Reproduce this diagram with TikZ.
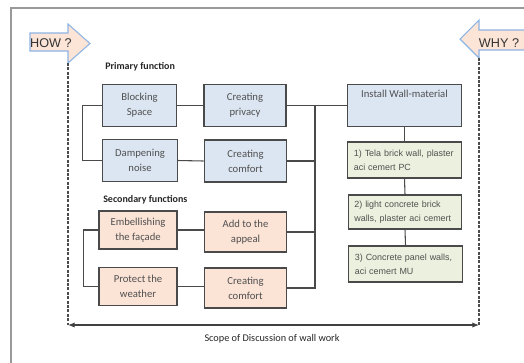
\documentclass[tikz,border=0pt]{standalone}
\usepackage{fontspec}
\setmainfont{Carlito}
\newfontfamily\arialfont{Liberation Sans}
\usepackage{xcolor}
\usetikzlibrary{arrows.meta}

\definecolor{primfill}{HTML}{DCE6F2}
\definecolor{secfill}{HTML}{FBE3D6}
\definecolor{matfill}{HTML}{EBF1DE}
\definecolor{howfill}{HTML}{FCE4D6}
\definecolor{howline}{HTML}{8EB4E3}
\definecolor{boxline}{HTML}{4A4A4A}
\definecolor{boxtext}{HTML}{505050}

\begin{document}
\begin{tikzpicture}[x=0.75pt,y=0.75pt,yscale=-1,xscale=1,
  funcbox/.style={draw=boxline,line width=0.9pt,inner sep=2pt,align=center,text=boxtext,
    font=\fontsize{8}{11.25}\selectfont},
  primbox/.style={funcbox,fill=primfill},
  secbox/.style={funcbox,fill=secfill},
  matbox/.style={funcbox,fill=matfill,align=left,text width=76pt,
    font=\arialfont\fontsize{6.7}{10.5}\selectfont},
  link/.style={draw=boxline,line width=0.8pt},
  heading/.style={anchor=west,inner sep=0.75pt,font=\bfseries\fontsize{7.5}{9}\selectfont,text=black!85},
  asker/.style={fill=howfill,draw=howline,line width=0.8pt},
  border/.style={dash pattern=on 2.2pt off 1.1pt,color=black!70,line width=1pt}]
\useasboundingbox (0,0) rectangle (524,362);

%frame
\draw [color=black!40,line width=1.3pt] (11,370) -- (11,8) -- (530,8) ;

%HOW / WHY arrows
\draw [asker] (30,33) -- (68,33) -- (68,24) -- (90,43.5) -- (68,63) -- (68,51) -- (30,51) -- cycle ;
\node [inner sep=0.75pt,font=\arialfont\fontsize{9.5}{11}\selectfont,text=black!80] (how) at (51,43) {HOW ?};
\draw [asker] (530,30) -- (479,30) -- (479,20) -- (460,39) -- (479,58) -- (479,50) -- (530,50) ;
\node [inner sep=0.75pt,font=\arialfont\fontsize{9.5}{11}\selectfont,text=black!80] (why) at (499,43) {WHY ?};

%scope
\coordinate (hl) at (68,63) ;
\coordinate (wl) at (479,58) ;
\coordinate (sl) at (68,325) ;
\coordinate (sr) at (479,325) ;
\draw [border] (hl) -- (sl) ;
\draw [border] (wl) -- (sr) ;
\draw [{Latex[length=5pt,width=4pt]}-{Latex[length=5pt,width=4pt]},color=black!75,line width=0.9pt] (sl) -- (sr) ;
\node [inner sep=0.75pt,font=\fontsize{7.7}{9}\selectfont,text=black!85] (scope) at (272,339) {Scope of Discussion of wall work};

%headings
\node [heading] (prim) at (104,67) {Primary function};
\node [heading] (sec) at (102,200) {Secondary functions};

%primary functions
\node [primbox,minimum width=56pt,minimum height=32pt] (block) at (139.5,105.5) {Blocking\\Space};
\node [primbox,minimum width=61.5pt,minimum height=32pt] (privacy) at (245,105.5) {Creating\\privacy};
\node [primbox,minimum width=56pt,minimum height=31pt] (dampen) at (140,160.5) {Dampening\\noise};
\node [primbox,minimum width=62pt,minimum height=31.5pt] (comfortA) at (245.5,161) {Creating\\comfort};

%secondary functions
\node [secbox,minimum width=58.5pt,minimum height=28.5pt] (embell) at (138,230) {Embellishing\\the façade};
\node [secbox,minimum width=62pt,minimum height=30pt] (appeal) at (245.5,232) {Add to the\\appeal};
\node [secbox,minimum width=58.5pt,minimum height=29pt] (protect) at (138,286.5) {Protect the\\weather};
\node [secbox,minimum width=62pt,minimum height=30pt] (comfortB) at (245.5,288) {Creating\\comfort};

%wall material
\node [primbox,minimum width=85pt,minimum height=32pt] (install) at (404.5,105.5) {};
\node [anchor=north,inner sep=0.75pt,text=boxtext,font=\fontsize{8}{10}\selectfont] (installtxt) at (404.5,89) {Install Wall-material};
\node [matbox,minimum width=85pt,minimum height=27pt] (tela) at (404.5,160) {1) Tela brick wall, plaster\\aci cemert PC};
\node [matbox,minimum width=85pt,minimum height=25.5pt] (light) at (405,212) {2) light concrete brick\\walls, plaster aci cemert};
\node [matbox,minimum width=85pt,minimum height=27pt] (panel) at (405.5,264) {3) Concrete panel walls,\\aci cemert MU};

%connectors
\coordinate (bus) at (315,105.5) ;
\draw [link] (block.west) -- ++(-19,0) |- (dampen.west) ;
\draw [link] (embell.west) -- ++(-15,0) |- (protect.west) ;
\draw [link] (block.east) -- (privacy.west) ;
\draw [link] (dampen.east) -- (comfortA.west) ;
\draw [link] (embell.east) -- (embell.east -| appeal.west) ;
\draw [link] (protect.east) -- (protect.east -| comfortB.west) ;
\draw [link] (privacy.east) -- (install.west) ;
\draw [link] (comfortB.east) -| (bus) ;
\draw [link] (comfortA.east) -- (comfortA.east -| bus) ;
\draw [link] (appeal.east) -- (appeal.east -| bus) ;
\draw [link] (install.south) -- (tela.north) ;
\draw [link] (tela.south) -- (light.north) ;
\draw [link] (light.south) -- (panel.north) ;

\end{tikzpicture}
\end{document}
